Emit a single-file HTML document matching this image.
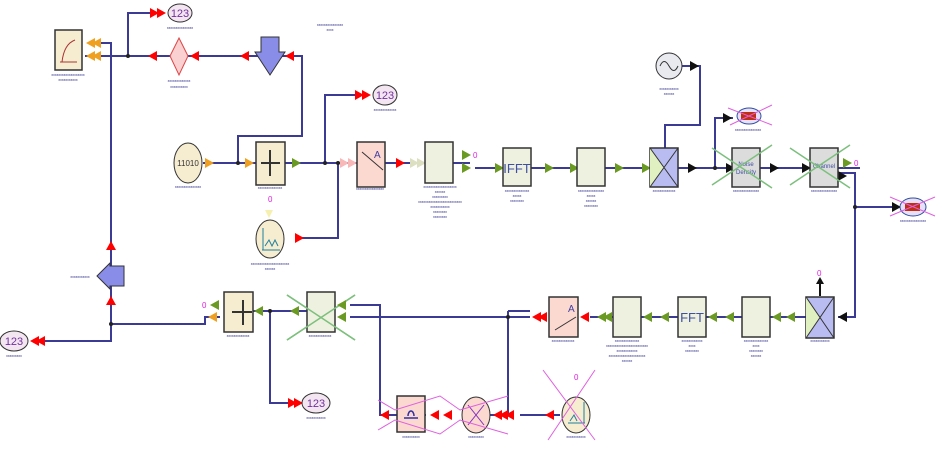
<!DOCTYPE html>
<html><head><meta charset="utf-8"><style>
html,body{margin:0;padding:0;background:#fff;}
svg{display:block;font-family:"Liberation Sans",sans-serif;}
.w{stroke:#3b3b96;stroke-width:2;fill:none;}
.t{font-size:3.5px;fill:#2a2a8a;}
.bx{stroke:#333;stroke-width:1.5;}
</style></head><body>
<svg width="943" height="461" viewBox="0 0 943 461" xmlns="http://www.w3.org/2000/svg">
<defs>
<polygon id="ar" points="0,-5 9,0 0,5"/>
<polygon id="al" points="9,-5 0,0 9,5"/>
</defs>
<g class="w">
<path d="M100,43 H111 V341 H45"/>
<path d="M85,56 H302 V136 H238 V163"/>
<path d="M128,56 V13 H150"/>
<path d="M203,163 H470"/>
<path d="M325,163 V95 H355"/>
<path d="M338,163 V238 H300"/>
<path d="M475,168 H860"/>
<path d="M682,66 H700 V125 H665 V148"/>
<path d="M715,168 V118 H733"/>
<path d="M838,173 H855 V317 H838"/>
<path d="M855,207 H900"/>
<path d="M590,317 H806"/>
<path d="M350,305 H380 V415 H426"/>
<path d="M350,317 H530"/>
<path d="M508,311 H530 M508,311 V415 H490"/>
<path d="M520,415 H560"/>
<path d="M220,317 H205 V324 H111"/>
<path d="M253,311 H307"/>
<path d="M270,311 V403 H290"/>
</g>
<g fill="#222">
<circle cx="128" cy="56" r="2"/><circle cx="238" cy="163" r="2"/><circle cx="325" cy="163" r="2"/><circle cx="338" cy="163" r="2"/><circle cx="715" cy="168" r="2"/><circle cx="855" cy="207" r="2"/><circle cx="111" cy="324" r="2"/><circle cx="270" cy="311" r="2"/><circle cx="508" cy="317" r="2"/>
</g>
<rect x="55" y="30" width="27" height="40" fill="#f6ecd0" class="bx"/>
<path d="M60,62 H77 M62,62 Q64,44 75,40" stroke="#a33" fill="none"/>
<g fill="#f0a020"><use href="#al" x="86" y="43"/><use href="#al" x="86" y="56"/><use href="#al" x="92" y="43"/><use href="#al" x="92" y="56"/></g>
<g fill="#f00"><use href="#ar" x="150" y="13"/><use href="#ar" x="157" y="13"/></g>
<ellipse cx="180" cy="13" rx="12" ry="9" fill="#f4e6f0" stroke="#333"/>
<text x="180" y="17" font-size="11" fill="#7030a0" text-anchor="middle">123</text>
<polygon points="179,38 188,56 179,75 170,56" fill="#fbd0d0" stroke="#d44"/>
<g fill="#f00"><use href="#al" x="148" y="56"/><use href="#al" x="190" y="56"/><use href="#al" x="240" y="56"/><use href="#al" x="285" y="56"/></g>
<polygon points="261,37 279,37 279,52 285,52 270,75 255,52 261,52" fill="#8a8de8" stroke="#333"/>
<ellipse cx="188" cy="163" rx="14" ry="20" fill="#f6ecd0" stroke="#333"/>
<text x="188" y="166" font-size="8" fill="#333" text-anchor="middle">11010</text>
<g fill="#f0a020"><use href="#ar" x="205" y="163"/><use href="#ar" x="245" y="163"/></g>
<rect x="256" y="142" width="29" height="43" fill="#f6ecd0" class="bx"/>
<path d="M270,150 V176 M261,163 H280" stroke="#333" stroke-width="2"/>
<g fill="#6b9a23"><use href="#ar" x="292" y="163"/></g>
<g fill="#f00"><use href="#ar" x="355" y="95"/><use href="#ar" x="362" y="95"/></g>
<ellipse cx="385" cy="95" rx="12" ry="10" fill="#f4e6f0" stroke="#333"/>
<text x="385" y="99" font-size="11" fill="#7030a0" text-anchor="middle">123</text>
<g fill="#f8b8b8"><use href="#ar" x="340" y="163"/><use href="#ar" x="348" y="163"/></g>
<rect x="357" y="142" width="28" height="45" fill="#fbd8d0" class="bx"/>
<path d="M362,152 L383,170" stroke="#333"/><text x="374" y="158" font-size="10" fill="#4040a0">A</text>
<g fill="#f00"><use href="#ar" x="396" y="163"/></g>
<g fill="#dde0c0"><use href="#ar" x="410" y="163"/><use href="#ar" x="417" y="163"/></g>
<rect x="425" y="142" width="28" height="41" fill="#eef0e0" class="bx"/>
<g fill="#6b9a23"><use href="#ar" x="462" y="155"/><use href="#ar" x="462" y="168"/></g>
<text x="473" y="158" font-size="8" fill="#e020e0">0</text>
<text x="268" y="202" font-size="8" fill="#e020e0">0</text>
<polygon points="265,210 273,210 269,218" fill="#f5f0b0"/>
<ellipse cx="270" cy="239" rx="14" ry="19" fill="#f6ecd0" stroke="#333"/>
<path d="M262,250 H280 M263,250 V228 M265,246 l4,-6 3,6 3,-6 3,6" stroke="#2080a0" fill="none"/>
<g fill="#f00"><use href="#ar" x="295" y="238"/></g>
<g fill="#6b9a23"><use href="#ar" x="495" y="168"/><use href="#ar" x="545" y="168"/><use href="#ar" x="570" y="168"/><use href="#ar" x="615" y="168"/><use href="#ar" x="642" y="168"/></g>
<rect x="503" y="148" width="28" height="38" fill="#eef0e0" class="bx"/>
<text x="517" y="173" font-size="13" fill="#4050a0" text-anchor="middle">IFFT</text>
<rect x="577" y="148" width="28" height="38" fill="#eef0e0" class="bx"/>
<circle cx="669" cy="66" r="13" fill="#e8eaf0" stroke="#333"/>
<path d="M660,66 q4,-9 9,0 t9,0" stroke="#333" fill="none"/>
<use href="#ar" x="690" y="66" fill="#111"/>
<rect x="650" y="148" width="28" height="39" fill="#b8bcf0" class="bx"/>
<polygon points="650,148 664,167 650,187" fill="#e0f0c0"/>
<path d="M650,148 L678,187 M678,148 L650,187" stroke="#333"/>
<g fill="#111"><use href="#ar" x="688" y="168"/><use href="#ar" x="726" y="168"/><use href="#ar" x="770" y="168"/><use href="#ar" x="802" y="168"/><use href="#ar" x="838" y="176"/><use href="#ar" x="723" y="118"/><use href="#ar" x="892" y="207"/><use href="#al" x="838" y="317"/></g>
<rect x="732" y="148" width="28" height="39" fill="#dcdcdc" class="bx"/>
<text x="746" y="166" font-size="6" fill="#4050a0" text-anchor="middle">Noise</text>
<text x="746" y="174" font-size="6" fill="#4050a0" text-anchor="middle">Density</text>
<rect x="810" y="148" width="28" height="39" fill="#dcdcdc" class="bx"/>
<text x="824" y="168" font-size="6" fill="#4050a0" text-anchor="middle">Channel</text>
<g stroke="#7cc07c" stroke-width="1.5" fill="none"><path d="M712,185 L772,145 M712,148 L772,188 M790,185 L850,145 M790,148 L850,188 M287,295 L355,340 M287,340 L355,295"/></g>
<g fill="#6b9a23"><use href="#ar" x="843" y="163"/></g>
<text x="854" y="166" font-size="8" fill="#e020e0">0</text>
<ellipse cx="749" cy="116" rx="12" ry="8" fill="#e8e0f8" stroke="#3050a0"/>
<rect x="741" y="112" width="15" height="8" fill="#c03010"/>
<ellipse cx="913" cy="207" rx="13" ry="9" fill="#e8e0f8" stroke="#3050a0"/>
<rect x="905" y="203" width="15" height="8" fill="#c03010"/>
<g stroke="#e060e0" stroke-width="1" fill="none"><path d="M728,108 L772,125 M730,125 L772,105 M890,197 L935,216 M890,216 L935,197"/></g>
<text x="817" y="276" font-size="8" fill="#e020e0">0</text>
<path d="M820,280 V296" stroke="#111" stroke-width="2"/><polygon points="816,284 820,277 824,284" fill="#111"/>
<rect x="806" y="297" width="28" height="41" fill="#b8bcf0" class="bx"/>
<polygon points="806,297 820,317 806,338" fill="#e0f0c0"/>
<path d="M806,297 L834,338 M834,297 L806,338" stroke="#333"/>
<g fill="#6b9a23"><use href="#al" x="786" y="317"/><use href="#al" x="772" y="317"/><use href="#al" x="725" y="317"/><use href="#al" x="708" y="317"/><use href="#al" x="660" y="317"/><use href="#al" x="597" y="317"/><use href="#al" x="603" y="317"/><use href="#al" x="643" y="317"/></g>
<rect x="742" y="297" width="28" height="40" fill="#eef0e0" class="bx"/>
<rect x="678" y="297" width="28" height="40" fill="#eef0e0" class="bx"/>
<text x="692" y="322" font-size="13" fill="#4050a0" text-anchor="middle">FFT</text>
<rect x="613" y="297" width="28" height="40" fill="#eef0e0" class="bx"/>
<g fill="#f00"><use href="#al" x="580" y="317"/><use href="#al" x="538" y="317"/><use href="#al" x="532" y="317"/></g>
<rect x="549" y="297" width="29" height="40" fill="#fbd8d0" class="bx"/>
<path d="M555,330 L576,317" stroke="#333"/><text x="568" y="312" font-size="10" fill="#4040a0">A</text>
<ellipse cx="576" cy="415" rx="14" ry="18" fill="#f6ecd0" stroke="#333"/>
<path d="M568,423 H585 M584,423 V402 M570,421 l4,-6 3,6" stroke="#2080a0" fill="none"/>
<text x="574" y="380" font-size="8" fill="#e020e0">0</text>
<g fill="#f00"><use href="#al" x="545" y="415"/><use href="#al" x="493" y="415"/><use href="#al" x="499" y="415"/><use href="#al" x="505" y="415"/><use href="#al" x="443" y="415"/><use href="#al" x="430" y="415"/><use href="#al" x="380" y="415"/></g>
<ellipse cx="476" cy="415" rx="14" ry="18" fill="#fbd8d0" stroke="#333"/>
<path d="M468,405 L484,425 M484,405 L468,425" stroke="#8030c0"/>
<rect x="397" y="396" width="28" height="36" fill="#fbd8d0" class="bx"/>
<path d="M404,418 H418 M408,416 a3,5 0 1 1 6,0" stroke="#3030a0" fill="none" stroke-width="1.5"/>
<g stroke="#e060e0" stroke-width="1" fill="none"><path d="M378,400 L395,410 L440,396 L460,410 L508,396 M378,430 L395,420 L440,434 L460,420 L508,434 M543,370 L595,440 M595,370 L548,440"/></g>
<rect x="307" y="292" width="28" height="40" fill="#eef0e0" class="bx"/>
<g stroke="#7cc07c" stroke-width="1.5" fill="none"><path d="M287,295 L355,340 M287,340 L355,295"/></g>
<g fill="#6b9a23"><use href="#al" x="337" y="305"/><use href="#al" x="337" y="317"/><use href="#al" x="290" y="311"/><use href="#al" x="254" y="311"/><use href="#al" x="210" y="305"/></g>
<rect x="224" y="292" width="29" height="40" fill="#f6ecd0" class="bx"/>
<path d="M243,300 V325 M232,312 H252" stroke="#333" stroke-width="2"/>
<text x="202" y="308" font-size="8" fill="#e020e0">0</text>
<use href="#al" x="208" y="317" fill="#f0a020"/>
<g fill="#f00"><use href="#ar" x="288" y="403"/><use href="#ar" x="294" y="403"/><use href="#al" x="30" y="341"/><use href="#al" x="36" y="341"/><polygon points="106,250 111,241 116,250"/><polygon points="106,305 111,296 116,305"/></g>
<ellipse cx="316" cy="403" rx="14" ry="10" fill="#f4e6f0" stroke="#333"/>
<text x="316" y="407" font-size="11" fill="#7030a0" text-anchor="middle">123</text>
<ellipse cx="14" cy="341" rx="14" ry="10" fill="#f4e6f0" stroke="#333"/>
<text x="14" y="345" font-size="11" fill="#7030a0" text-anchor="middle">123</text>
<polygon points="97,276 110,263 110,266 124,266 124,286 110,286 110,289" fill="#8a8de8" stroke="#333"/>
<g class="t" text-anchor="middle">
<text x="68" y="76">xxxxxxxxxxxxxxxxxxx</text><text x="68" y="81">xxxxxxxxxxx</text>
<text x="180" y="29">xxxxxxxxxxxxxxx</text>
<text x="179" y="82">xxxxxxxxxxxxx</text><text x="179" y="88">xxxxxxxxxx</text>
<text x="330" y="26">xxxxxxxxxxxxxxx</text><text x="330" y="31">xxxx</text>
<text x="385" y="111">xxxxxxxxxxxxx</text>
<text x="188" y="188">xxxxxxxxxxxxxxx</text>
<text x="270" y="189">xxxxxxxxxxxxxx</text>
<text x="370" y="190">xxxxxxxxxxxxxxxx</text>
<text x="440" y="188">xxxxxxxxxxxxxxxxxxx</text><text x="440" y="193">xxxxxx</text><text x="440" y="198">xxxxxxxxx</text><text x="440" y="203">xxxxxxxxxxxxxxxxxxxxxxxxx</text><text x="440" y="208">xxxxxxxxxxx</text><text x="440" y="213">xxxxxxxx</text><text x="440" y="218">xxxxxxxx</text>
<text x="517" y="192">xxxxxxxxxxxxxx</text><text x="517" y="197">xxxxx</text><text x="517" y="202">xxxxxxxx</text>
<text x="591" y="192">xxxxxxxxxxxxxxx</text><text x="591" y="197">xxxxx</text><text x="591" y="202">xxxxxx</text><text x="591" y="207">xxxxxxxx</text>
<text x="664" y="192">xxxxxxxxxxxxx</text>
<text x="669" y="90">xxxxxxxxxxx</text><text x="669" y="95">xxxxxx</text>
<text x="746" y="192">xxxxxxxxxxxxxxx</text><text x="824" y="192">xxxxxxxxxxxxxxx</text>
<text x="748" y="131">xxxxxxxxxxxxxxx</text><text x="913" y="222">xxxxxxxxxxxxxxx</text>
<text x="270" y="265">xxxxxxxxxxxxxxxxxxxxxx</text><text x="270" y="270">xxxxxx</text>
<text x="80" y="278">xxxxxxxxxxx</text>
<text x="14" y="357">xxxxxxxxx</text>
<text x="238" y="337">xxxxxxxxxxxxx</text><text x="320" y="337">xxxxxxxxxxxxx</text>
<text x="316" y="419">xxxxxxxxxxx</text>
<text x="411" y="438">xxxxxxxxxx</text><text x="476" y="438">xxxxxxxxx</text><text x="576" y="438">xxxxxxxxxxx</text>
<text x="563" y="342">xxxxxxxxxxxxx</text>
<text x="627" y="342">xxxxxxxxxxxxxx</text><text x="627" y="347">xxxxxxxxxxxxxxxxxxxxxxxx</text><text x="627" y="352">xxxxxxxxxxxx</text><text x="627" y="357">xxxxxxxxxxxxxxxxxxxxx</text><text x="627" y="362">xxxxxx</text>
<text x="692" y="342">xxxxxxxxxxxx</text><text x="692" y="347">xxxx</text><text x="692" y="352">xxxxxxxx</text>
<text x="756" y="342">xxxxxxxxxxxxxx</text><text x="756" y="347">xxxx</text><text x="756" y="352">xxxxxxxx</text><text x="756" y="357">xxxxxx</text>
<text x="820" y="342">xxxxxxxxxxx</text>
</g>
</svg>
</body></html>
